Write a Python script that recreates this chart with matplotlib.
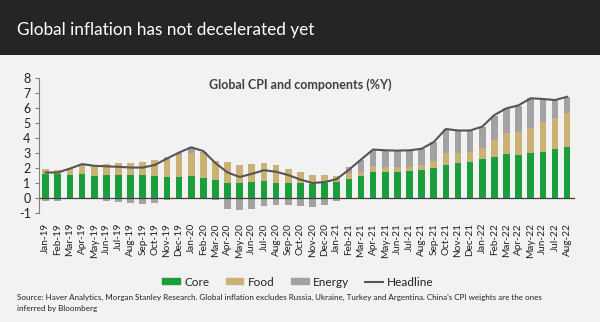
import matplotlib
matplotlib.use("Agg")
import matplotlib.pyplot as plt
from matplotlib.patches import Rectangle
from matplotlib.lines import Line2D
import numpy as np

months = ["Jan-19","Feb-19","Mar-19","Apr-19","May-19","Jun-19","Jul-19","Aug-19","Sep-19","Oct-19","Nov-19","Dec-19",
          "Jan-20","Feb-20","Mar-20","Apr-20","May-20","Jun-20","Jul-20","Aug-20","Sep-20","Oct-20","Nov-20","Dec-20",
          "Jan-21","Feb-21","Mar-21","Apr-21","May-21","Jun-21","Jul-21","Aug-21","Sep-21","Oct-21","Nov-21","Dec-21",
          "Jan-22","Feb-22","Mar-22","Apr-22","May-22","Jun-22","Jul-22","Aug-22"]

core = [1.65,1.62,1.57,1.60,1.50,1.53,1.57,1.57,1.57,1.50,1.45,1.45,
        1.50,1.35,1.22,1.05,1.03,1.10,1.13,1.03,1.02,1.00,0.98,1.00,
        1.10,1.26,1.48,1.78,1.78,1.78,1.84,1.89,2.04,2.22,2.33,2.40,
        2.62,2.78,2.93,2.89,3.04,3.11,3.29,3.42]
food = [0.30,0.28,0.43,0.63,0.62,0.75,0.78,0.78,0.83,1.07,1.33,1.44,
        1.54,1.65,1.26,1.40,1.17,1.21,1.25,1.17,0.93,0.75,0.57,0.57,
        0.38,0.41,0.29,0.39,0.28,0.33,0.27,0.33,0.45,0.78,0.71,0.71,
        0.76,1.11,1.40,1.55,1.67,2.00,2.04,2.25]
energy = [-0.21,-0.20,-0.05,0.05,0.03,-0.15,-0.22,-0.30,-0.35,-0.30,-0.12,0.15,
          0.36,0.10,-0.13,-0.69,-0.80,-0.69,-0.51,-0.42,-0.43,-0.53,-0.57,-0.45,
          -0.20,0.44,0.78,1.05,1.11,1.06,1.06,1.07,1.26,1.62,1.45,1.38,
          1.40,1.62,1.67,1.74,1.96,1.51,1.22,1.10]
headline = [1.72,1.72,1.98,2.28,2.17,2.13,2.10,2.05,2.05,2.22,2.65,3.05,
            3.40,3.15,2.35,1.72,1.42,1.63,1.87,1.77,1.55,1.25,1.02,1.08,
            1.28,1.90,2.58,3.25,3.20,3.18,3.20,3.30,3.75,4.62,4.52,4.52,
            4.78,5.55,6.00,6.20,6.67,6.62,6.55,6.77]
yticks = [-1,0,1,2,3,4,5,6,7,8]
series_names = ["Core","Food","Energy","Headline"]

title = "Global inflation has not decelerated yet"
subtitle = "Global CPI and components (%Y)"
source = ("Source: Haver Analytics, Morgan Stanley Research. Global inflation excludes Russia, Ukraine, Turkey and Argentina. China's CPI weights are the ones\n"
          "inferred by Bloomberg")

C_CORE = "#1d9e3e"
C_FOOD = "#c9b273"
C_ENERGY = "#a2a2a2"
C_HEAD = "#555555"
BG = "#f2f2f2"

plt.rcParams['font.family'] = ['Lato', 'DejaVu Sans']

fig = plt.figure(figsize=(6.0, 3.22), dpi=100)
fig.patch.set_facecolor(BG)
# dark header band
fig.patches.append(Rectangle((0, 1 - 55/322), 1, 55/322, transform=fig.transFigure,
                             facecolor="#262526", edgecolor="none", zorder=0))
fig.text(17/600, 1 - 30/322, title, color="white", fontsize=12.4, va="center", ha="left")
fig.text(300/600, 1 - 85/322, subtitle, color="#404040", fontsize=9, fontweight="bold",
         va="center", ha="center")

ax = fig.add_axes([39/600, (322-213.3)/322, (575-39)/600, (213.3-78.3)/322])
ax.set_facecolor(BG)
x = np.arange(len(months))
core_a = np.array(core); food_a = np.array(food); en_a = np.array(energy)
w = 0.55
ax.bar(x, core_a, width=w, color=C_CORE, zorder=2)
ax.bar(x, food_a, width=w, bottom=core_a, color=C_FOOD, zorder=2)
en_bottom = np.where(en_a > 0, core_a + food_a, 0)
ax.bar(x, en_a, width=w, bottom=en_bottom, color=C_ENERGY, zorder=2)
ax.plot(x, headline, color=C_HEAD, lw=1.5, zorder=3)
ax.axhline(0, color="#404040", lw=0.9, zorder=2.5)

ax.set_xlim(-0.55, 43.65)
ax.set_ylim(-1, 8)
ax.set_yticks(yticks)
ax.set_yticklabels([str(t) for t in yticks], fontsize=9, color="#222222")
ax.set_xticks(x)
ax.set_xticklabels(months, rotation=90, fontsize=7.2, color="#222222")
ax.tick_params(axis="x", length=0, pad=7)
ax.tick_params(axis="y", length=3, color="#808080", pad=3)
for s in ["top", "right", "bottom"]:
    ax.spines[s].set_visible(False)
ax.spines["left"].set_color("#808080")
ax.spines["left"].set_linewidth(0.8)

handles = [Rectangle((0,0),1,1,color=C_CORE), Rectangle((0,0),1,1,color=C_FOOD),
           Rectangle((0,0),1,1,color=C_ENERGY), Line2D([0],[0],color=C_HEAD,lw=1.5)]
fig.legend(handles, series_names, loc="center", bbox_to_anchor=(298/600, 1 - 282/322),
           ncol=4, frameon=False, fontsize=8.5, handlelength=1.5, handleheight=0.45,
           columnspacing=1.4, handletextpad=0.35, labelcolor="#222222")

fig.text(17/600, 1 - 303/322, source, fontsize=5.8, color="#222222", va="center", ha="left",
         linespacing=1.6)

fig.savefig("out.png", dpi=100, facecolor=BG)
